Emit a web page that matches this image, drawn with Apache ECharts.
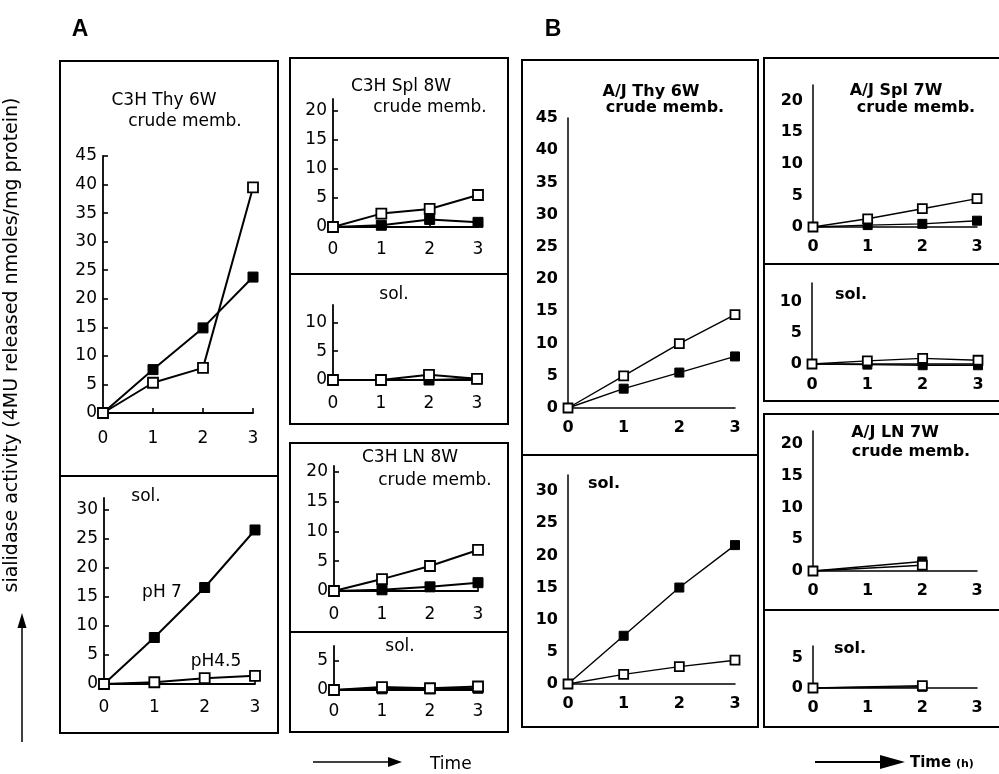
<!DOCTYPE html>
<html><head><meta charset="utf-8">
<script src="https://cdn.jsdelivr.net/npm/echarts@6/dist/echarts.min.js"></script>
<style>html,body{margin:0;padding:0;background:#fff}#c{width:999px;height:774px}</style>
</head><body><div id="c"></div>
<script>
// ---------- data ----------
const timeHours = [0, 1, 2, 3];
const timeHoursLN = [0, 2];
const xTickLabels = [0, 1, 2, 3];
const yTicks45 = [0, 5, 10, 15, 20, 25, 30, 35, 40, 45];
const yTicks30 = [0, 5, 10, 15, 20, 25, 30];
const yTicks20 = [0, 5, 10, 15, 20];
const yTicks10 = [0, 5, 10];
const yTicks5 = [0, 5];

// A: C3H (open = pH4.5, filled = pH7)
const c3hThyMembOpen = [0, 5.3, 7.9, 39.5];
const c3hThyMembFilled = [0, 7.6, 14.9, 23.8];
const c3hThySolOpen = [0, 0.3, 1.0, 1.4];
const c3hThySolFilled = [0, 8.0, 16.6, 26.5];
const c3hSplMembOpen = [0, 2.3, 3.1, 5.5];
const c3hSplMembFilled = [0, 0.3, 1.3, 0.8];
const c3hSplSolOpen = [0, 0, 0.9, 0.2];
const c3hSplSolFilled = [0, 0, 0, 0.2];
const c3hLNMembOpen = [0, 2.0, 4.2, 6.9];
const c3hLNMembFilled = [0, 0.2, 0.7, 1.4];
const c3hLNSolOpen = [0, 0.5, 0.3, 0.6];
const c3hLNSolFilled = [0, 0.2, 0.2, 0.3];
// B: A/J
const ajThyMembOpen = [0, 5.0, 10.0, 14.5];
const ajThyMembFilled = [0, 3.0, 5.5, 8.0];
const ajThySolOpen = [0, 1.5, 2.7, 3.7];
const ajThySolFilled = [0, 7.5, 15.0, 21.6];
const ajSplMembOpen = [0, 1.3, 2.9, 4.5];
const ajSplMembFilled = [0, 0.3, 0.5, 1.0];
const ajSplSolOpen = [0, 0.5, 0.9, 0.6];
const ajSplSolFilled = [0, -0.1, -0.2, -0.2];
const ajLNMembOpen = [0, 0.9];
const ajLNMembFilled = [0, 1.5];
const ajLNSolOpen = [0, 0.4];
const ajLNSolFilled = [0, 0.2];

// ---------- layout ----------
const FA = '"DejaVu Sans", sans-serif';
const FB = '"DejaVu Sans", sans-serif';
const panels = [
  {g:[103,156,150,257], max:45, yt:yTicks45, s:'A', xm:17, xs:timeHours, o:c3hThyMembOpen, f:c3hThyMembFilled},
  {g:[104,498,151,186], max:32, yt:yTicks30, s:'A', xm:15, xs:timeHours, o:c3hThySolOpen, f:c3hThySolFilled},
  {g:[333,99,145,128], max:22, yt:yTicks20, s:'A', xm:14, xs:timeHours, o:c3hSplMembOpen, f:c3hSplMembFilled},
  {g:[333,305,144,75], max:13, yt:yTicks10, s:'A', xm:15, xs:timeHours, o:c3hSplSolOpen, f:c3hSplSolFilled},
  {g:[334,466,144,125], max:21, yt:yTicks20, s:'A', xm:15, xs:timeHours, o:c3hLNMembOpen, f:c3hLNMembFilled},
  {g:[334,646,144,44], max:7.5, yt:yTicks5, s:'A', xm:13, xs:timeHours, o:c3hLNSolOpen, f:c3hLNSolFilled},
  {g:[568,118,167,290], max:45, yt:yTicks45, s:'B', xm:12, xs:timeHours, o:ajThyMembOpen, f:ajThyMembFilled},
  {g:[568,475,167,209], max:32.5, yt:yTicks30, s:'B', xm:12, xs:timeHours, o:ajThySolOpen, f:ajThySolFilled},
  {g:[813,85,164,142], max:22.5, yt:yTicks20, s:'B', xm:12, xs:timeHours, o:ajSplMembOpen, f:ajSplMembFilled},
  {g:[812,283,166,81], max:13, yt:yTicks10, s:'B', xm:13, xs:timeHours, o:ajSplSolOpen, f:ajSplSolFilled},
  {g:[813,431,164,140], max:22, yt:yTicks20, s:'B', xm:12, xs:timeHoursLN, o:ajLNMembOpen, f:ajLNMembFilled},
  {g:[813,646,164,42], max:7, yt:yTicks5, s:'B', xm:12, xs:timeHoursLN, o:ajLNSolOpen, f:ajLNSolFilled}
];

const grid = [], xAxis = [], yAxis = [], series = [];
panels.forEach((p, i) => {
  const A = p.s === 'A';
  const font = A ? FA : FB;
  grid.push({left:p.g[0], top:p.g[1], width:p.g[2], height:p.g[3], containLabel:false});
  const lbl = {color:'#000', fontFamily:font, fontSize:A?17:16, fontWeight:A?'normal':'bold'};
  xAxis.push({type:'value', gridIndex:i, min:0, max:3, interval:1,
    axisLine:{show:true, onZero:false, lineStyle:{color:'#000', width:A?1.8:1.5}},
    axisTick:{show:A, inside:true, length:5, lineStyle:{color:'#000', width:1.6}},
    axisLabel:Object.assign({margin:p.xm, customValues:xTickLabels}, lbl),
    splitLine:{show:false}});
  yAxis.push({type:'value', gridIndex:i, min:0, max:p.max,
    axisLine:{show:true, onZero:false, lineStyle:{color:'#000', width:A?1.8:1.5}},
    axisTick:{show:A, inside:true, length:5, customValues:p.yt, lineStyle:{color:'#000', width:1.6}},
    axisLabel:Object.assign({margin:A?6:10, customValues:p.yt}, lbl),
    splitLine:{show:false}});
  const mk = (ys) => p.xs.map((x, k) => [x, ys[k]]);
  series.push({type:'line', xAxisIndex:i, yAxisIndex:i, data:mk(p.f), clip:false,
    symbol:'rect', symbolSize:A?10:9, itemStyle:{color:'#000', borderColor:'#000', borderWidth:1},
    lineStyle:{color:'#000', width:A?2:1.4}, z:2, animation:false});
  series.push({type:'line', xAxisIndex:i, yAxisIndex:i, data:mk(p.o), clip:false,
    symbol:'rect', symbolSize:A?10:9, itemStyle:{color:'#fff', borderColor:'#000', borderWidth:1.8},
    lineStyle:{color:'#000', width:A?2:1.4}, z:3, animation:false});
});

function txt(x, y, t, o) {
  return {type:'text', x:x, y:y, style:Object.assign({text:t, fill:'#000', font:'16px ' + FA, textAlign:'center', textVerticalAlign:'middle'}, o||{}), z:10};
}
function rect(x, y, w, h) {
  return {type:'rect', shape:{x:x, y:y, width:w, height:h}, style:{fill:'none', stroke:'#000', lineWidth:2}, z:1};
}
function line(x1, y1, x2, y2, w) {
  return {type:'line', shape:{x1:x1, y1:y1, x2:x2, y2:y2}, style:{stroke:'#000', lineWidth:w||2}, z:1};
}
const aFont = '17px ' + FA;
const bFont = 'bold 16px ' + FB;
const graphic = [
  txt(80, 30, 'A', {font:'bold 23px "Liberation Sans", Arial, sans-serif'}),
  txt(553, 30, 'B', {font:'bold 23px "Liberation Sans", Arial, sans-serif'}),
  rect(60, 61, 218, 672), line(60, 476, 278, 476),
  rect(290, 58, 218, 366), line(290, 274, 508, 274),
  rect(290, 443, 218, 289), line(290, 632, 508, 632),
  rect(522, 60, 236, 667), line(522, 455, 758, 455),
  rect(764, 58, 260, 343), line(764, 264, 1024, 264),
  rect(764, 414, 260, 313), line(764, 610, 1024, 610),
  txt(164, 101, 'C3H Thy 6W', {font:aFont}),
  txt(185, 122, 'crude memb.', {font:aFont}),
  txt(146, 497, 'sol.', {font:aFont}),
  txt(162, 593, 'pH 7', {font:aFont}),
  txt(216, 662, 'pH4.5', {font:aFont}),
  txt(401, 87, 'C3H Spl 8W', {font:aFont}),
  txt(430, 108, 'crude memb.', {font:aFont}),
  txt(394, 295, 'sol.', {font:aFont}),
  txt(410, 458, 'C3H LN 8W', {font:aFont}),
  txt(435, 481, 'crude memb.', {font:aFont}),
  txt(400, 647, 'sol.', {font:aFont}),
  txt(651, 92, 'A/J Thy 6W', {font:bFont}),
  txt(665, 108, 'crude memb.', {font:bFont}),
  txt(604, 484, 'sol.', {font:bFont}),
  txt(896, 91, 'A/J Spl 7W', {font:bFont}),
  txt(916, 108, 'crude memb.', {font:bFont}),
  txt(851, 295, 'sol.', {font:bFont}),
  txt(895, 433, 'A/J LN 7W', {font:bFont}),
  txt(911, 452, 'crude memb.', {font:bFont}),
  txt(850, 649, 'sol.', {font:bFont}),
  {type:'text', x:12, y:345, rotation:Math.PI/2,
   style:{text:'sialidase activity (4MU released nmoles/mg protein)', fill:'#000', font:'19px ' + FA, textAlign:'center', textVerticalAlign:'middle'}, z:10},
  line(22, 742, 22, 626, 1.5),
  {type:'polygon', shape:{points:[[22,613],[17.5,628],[26.5,628]]}, style:{fill:'#000'}, z:1},
  line(313, 762, 392, 762, 1.5),
  {type:'polygon', shape:{points:[[402,762],[388,757],[388,767]]}, style:{fill:'#000'}, z:1},
  txt(430, 765, 'Time', {font:'17px ' + FA, textAlign:'left'}),
  line(815, 762, 882, 762, 2),
  {type:'polygon', shape:{points:[[905,762],[880,755],[880,769]]}, style:{fill:'#000'}, z:1},
  txt(910, 763, 'Time', {font:'bold 15px ' + FB, textAlign:'left'}),
  txt(956, 764, '(h)', {font:'bold 11px ' + FB, textAlign:'left'})
];

const chart = echarts.init(document.getElementById('c'), null, {renderer:'canvas'});
chart.setOption({backgroundColor:'#fff', animation:false, grid, xAxis, yAxis, series, graphic});
</script></body></html>
